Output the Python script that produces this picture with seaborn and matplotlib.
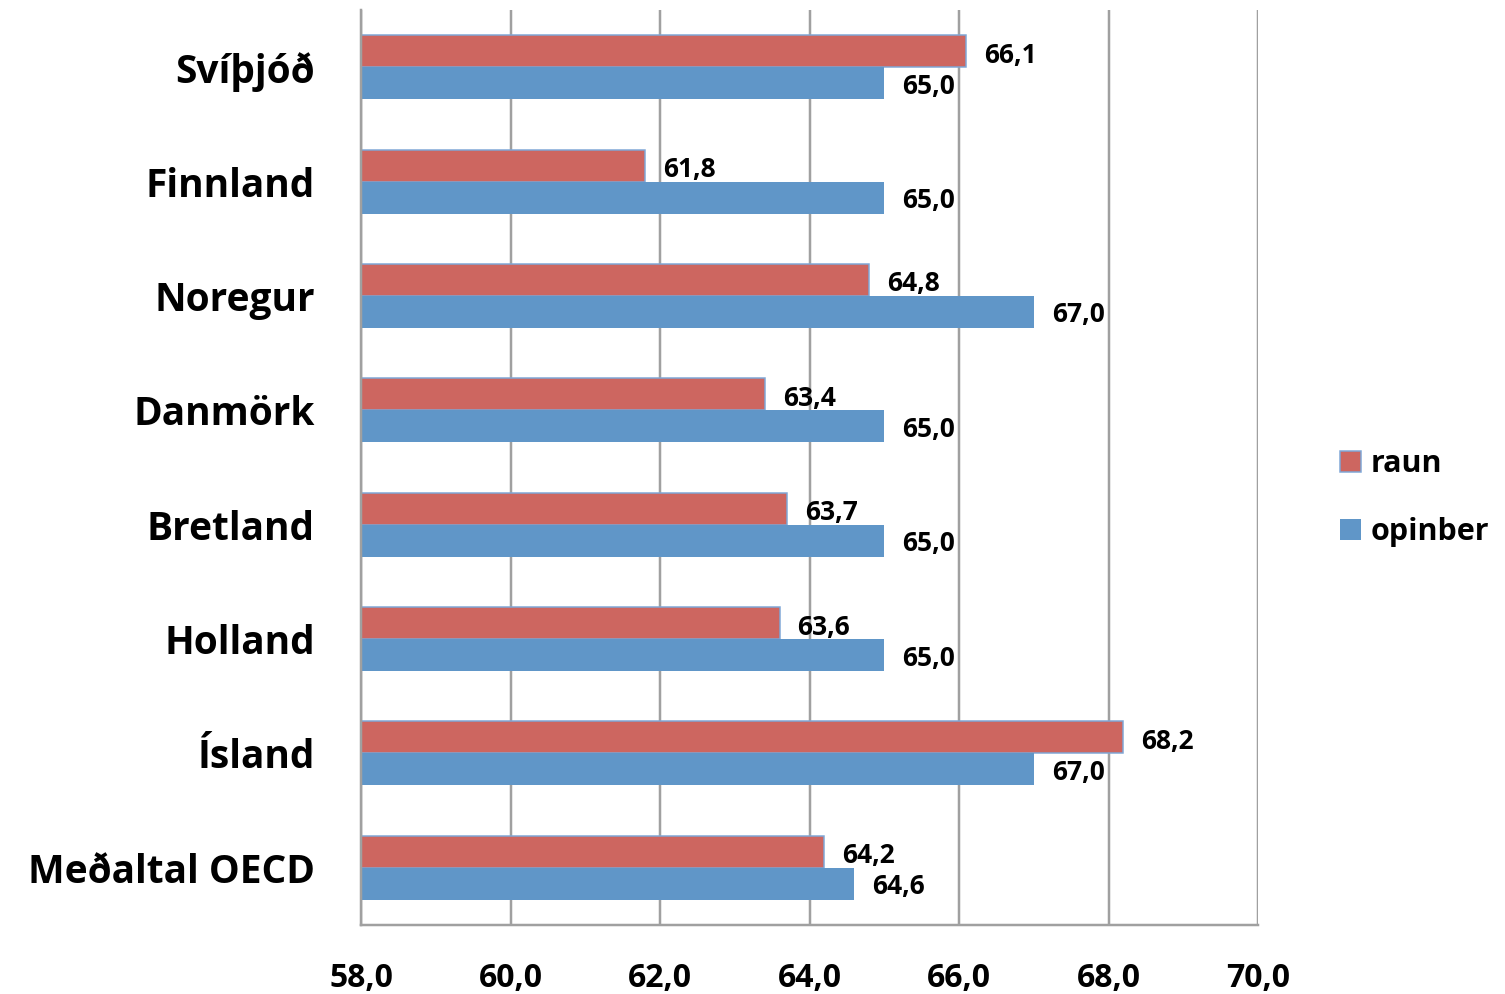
import matplotlib
matplotlib.use("Agg")
import matplotlib.pyplot as plt
from matplotlib.patches import Patch
from matplotlib.ticker import FixedLocator
import seaborn as sns
import pandas as pd

countries = ["Svíþjóð", "Finnland", "Noregur", "Danmörk", "Bretland",
             "Holland", "Ísland", "Meðaltal OECD"]
raun = [66.1, 61.8, 64.8, 63.4, 63.7, 63.6, 68.2, 64.2]
opinber = [65.0, 65.0, 67.0, 65.0, 65.0, 65.0, 67.0, 64.6]
series = ["raun", "opinber"]
x_ticks = [58, 60, 62, 64, 66, 68, 70]

RED = "#CD6660"
BLUE = "#6096C8"
EDGE = "#7EA6D6"
GRID = "#A0A0A0"
PX = 72 / 100  # points per pixel at 100 dpi

df = pd.DataFrame({
    "land": countries * 2,
    "aldur": raun + opinber,
    "röð": ["raun"] * len(countries) + ["opinber"] * len(countries),
})

sns.set_style("white")
plt.rcParams["font.family"] = ["Open Sans", "DejaVu Sans"]
plt.rcParams["font.weight"] = "bold"
plt.rcParams["text.color"] = "black"
plt.rcParams["xtick.labelcolor"] = "black"
plt.rcParams["ytick.labelcolor"] = "black"

fig = plt.figure(figsize=(15.05, 9.94), dpi=100)
ax = fig.add_axes([361 / 1505, 69 / 994, (1258 - 361) / 1505, (925 - 10) / 994])

sns.barplot(data=df, y="land", x="aldur", hue="röð", order=countries,
            hue_order=series, palette=[RED, BLUE], orient="h",
            width=0.56, gap=0, saturation=1, ax=ax, legend=False,
            linewidth=0)

# thin light-blue outline on the red bars
for cont, s in zip(ax.containers, series):
    if s == "raun":
        for bar in cont:
            bar.set_edgecolor(EDGE)
            bar.set_linewidth(1.5 * PX)

ax.set_xlim(58, 70)
ax.set_ylim(len(countries) - 0.5, -0.5)
ax.set_xticks(x_ticks)
ax.set_xticklabels([f"{t:.1f}".replace(".", ",") for t in x_ticks],
                   fontsize=23, fontweight="bold", color="black")
ax.set_yticks(range(len(countries)))
ax.set_yticklabels(countries, fontsize=28, fontweight="bold", color="black")
ax.yaxis.set_minor_locator(FixedLocator([i - 0.5 for i in range(len(countries) + 1)]))
ax.tick_params(axis="y", which="major", length=0, pad=46 * PX)
ax.tick_params(axis="y", which="minor", length=14 * PX, width=2 * PX,
               color=GRID, direction="out")
ax.tick_params(axis="x", which="major", length=12 * PX, width=2 * PX,
               color=GRID, direction="out", pad=25 * PX)
ax.set_xlabel("")
ax.set_ylabel("")

for side in ["top", "right"]:
    ax.spines[side].set_visible(False)
for side in ["left", "bottom"]:
    ax.spines[side].set_color(GRID)
    ax.spines[side].set_linewidth(2.5 * PX)

ax.xaxis.grid(True, color=GRID, linewidth=2.5 * PX)
ax.set_axisbelow(True)

# value labels at the end of each bar
for cont, vals, dy in zip(ax.containers, [raun, opinber], [-4, -3]):
    for bar, v in zip(cont, vals):
        yc = bar.get_y() + bar.get_height() / 2
        ax.annotate(f"{v:.1f}".replace(".", ","), xy=(v, yc),
                    xytext=(18, dy), textcoords="offset pixels",
                    ha="left", va="center", fontsize=19, fontweight="bold",
                    color="black", annotation_clip=False)

handles = [Patch(facecolor=RED, edgecolor=EDGE, linewidth=1.5 * PX),
           Patch(facecolor=BLUE, edgecolor=BLUE, linewidth=0)]
fig.legend(handles, series, loc="center left",
           bbox_to_anchor=(1340 / 1505, 1 - 498 / 994), frameon=False,
           prop={"size": 22, "weight": "bold"}, handlelength=0.7,
           handleheight=0.7, handletextpad=0.3, labelspacing=1.25,
           borderaxespad=0, borderpad=0, labelcolor="black")

fig.savefig("out.png", dpi=100)
